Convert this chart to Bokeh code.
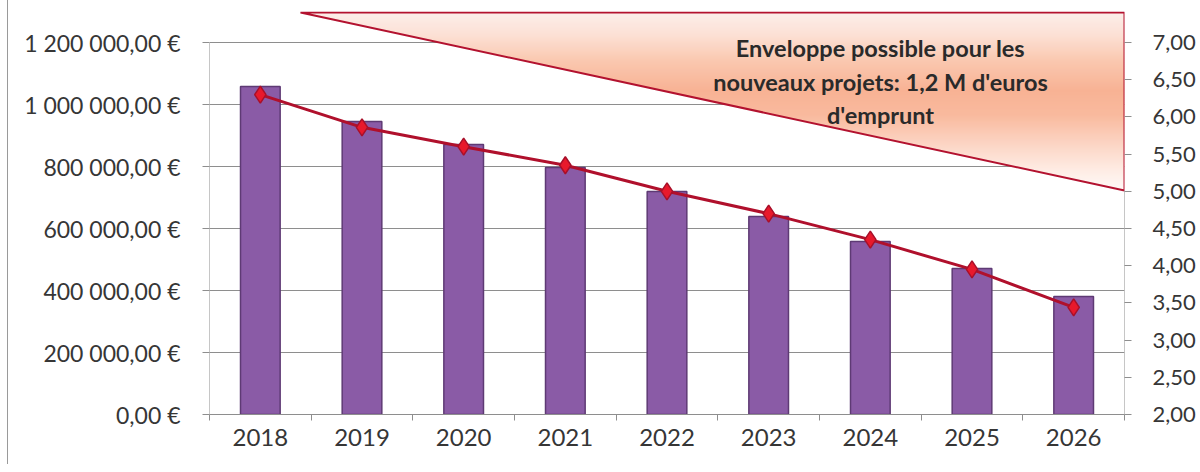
from bokeh.plotting import figure
from bokeh.models import Range1d, LinearAxis, FixedTicker, ColumnDataSource
from bokeh.core.properties import value
from bokeh.embed import file_html
from bokeh.resources import INLINE

# ---- data ----
years = ["2018", "2019", "2020", "2021", "2022", "2023", "2024", "2025", "2026"]
capital = [1058000, 945000, 871000, 797000, 719000, 639000, 558000, 471000, 381000]
ratio = [6.30, 5.86, 5.60, 5.35, 5.00, 4.70, 4.35, 3.95, 3.44]
left_ticks = [0, 200000, 400000, 600000, 800000, 1000000, 1200000]
right_ticks = [2.0, 2.5, 3.0, 3.5, 4.0, 4.5, 5.0, 5.5, 6.0, 6.5, 7.0]
note_lines = ["Enveloppe possible pour les", "nouveaux projets: 1,2 M d'euros", "d'emprunt"]

FONT = "Lato"
TXT = "#363636"
GRID = "#8e8e8e"

# layout: frame 915 x 403 px; left scale 1.2M over 372 px
frame_h = 403
px_per_unit_left = 372 / 1200000
y_top = frame_h / px_per_unit_left          # 1.3M
r_top = 2 + 5 * frame_h / 372

p = figure(frame_width=915, frame_height=frame_h, min_border_left=201, min_border_top=11,
           min_border_right=75, min_border_bottom=50,
           x_range=Range1d(-0.5, 8.5), y_range=Range1d(0, y_top),
           output_backend="svg", toolbar_location=None)
p.outline_line_color = None
p.background_fill_color = "white"
p.border_fill_color = "white"
p.extra_y_ranges = {"r": Range1d(2, r_top)}

xs = list(range(len(years)))

# ---- gradient triangle (annotation) ----
def px_to_y(py):  # page pixel row -> left-axis data value
    return (414 - py) / px_per_unit_left

tri_x0 = (300 - 209) / 101.67 - 0.5
tri_ytop = px_to_y(12)
tri_ybot = px_to_y(190)

def hyp_x(y):
    t = (tri_ytop - y) / (tri_ytop - tri_ybot)
    return tri_x0 + t * (8.5 - tri_x0)

stops = [(12, (252, 238, 234)), (35, (252, 224, 212)), (60, (250, 200, 176)),
         (90, (248, 178, 148)), (115, (249, 186, 158)), (145, (252, 214, 198)),
         (170, (254, 236, 228)), (190, (255, 250, 248))]

def col_at(py):
    for (a, ca), (b, cb) in zip(stops[:-1], stops[1:]):
        if a <= py <= b:
            t = (py - a) / (b - a)
            c = [round(ca[i] + t * (cb[i] - ca[i])) for i in range(3)]
            return "#%02x%02x%02x" % tuple(c)
    return "#ffffff"

bx, by, bc = [], [], []
nb = 89
for i in range(nb):
    pa = 12 + (190 - 12) * i / nb
    pb = 12 + (190 - 12) * (i + 1) / nb
    ya = px_to_y(pa)
    yb = px_to_y(min(pb + 0.8, 190))
    bx.append([hyp_x(ya), 8.5, 8.5, hyp_x(yb)])
    by.append([ya, ya, yb, yb])
    bc.append(col_at((pa + pb) / 2))
p.patches(bx, by, fill_color=bc, line_color=None)
p.patch([tri_x0, 8.5, 8.5], [tri_ytop, tri_ytop, tri_ybot], fill_color=None,
        line_color="#b3122f", line_width=2)

# ---- bars ----
src = ColumnDataSource(dict(x=xs, cap=capital, r=ratio))
p.vbar(x="x", top="cap", width=0.39, source=src, fill_color="#8a5ba6",
       line_color="#5e3a74", line_width=1.5)

# ---- line ----
p.line(x="x", y="r", source=src, y_range_name="r", line_color="#b0102c", line_width=3)
p.scatter(x="x", y="r", source=src, y_range_name="r", marker="diamond", size=17,
          fill_color="#e8192c", line_color="#a8102a", line_width=1.5)

# ---- annotation text ----
note_x = (880 - 209) / 101.67 - 0.5
note_y = [px_to_y(47), px_to_y(81), px_to_y(114)]
p.text(x=[note_x] * 3, y=note_y, text=note_lines, text_align="center",
       text_baseline="middle", text_font=value(FONT), text_font_style="bold",
       text_font_size="23.5px", text_color="#2a2a2a")

# ---- axes ----
p.xgrid.grid_line_color = None
p.ygrid.ticker = FixedTicker(ticks=left_ticks)
p.ygrid.grid_line_color = GRID
p.ygrid.grid_line_width = 1

xa = p.xaxis[0]
xa.ticker = FixedTicker(ticks=xs, minor_ticks=[i - 0.5 for i in range(len(years) + 1)])
xa.major_label_overrides = {i: y for i, y in enumerate(years)}
xa.major_tick_line_color = None
xa.minor_tick_in = 0
xa.minor_tick_out = 6
xa.minor_tick_line_color = GRID
xa.axis_line_color = GRID
xa.major_label_standoff = 8
xa.major_label_text_font_size = "24px"

ya_ = p.yaxis[0]
ya_.ticker = FixedTicker(ticks=left_ticks)
ya_.major_label_overrides = {
    v: ("{:,.2f}".format(v).replace(",", " ").replace(".", ",") + " €") for v in left_ticks}
ya_.minor_tick_line_color = None
ya_.major_tick_in = 0
ya_.major_tick_out = 7
ya_.major_tick_line_color = GRID
ya_.axis_line_color = None
ya_.major_label_standoff = 22
ya_.major_label_text_font_size = "23px"

ra = LinearAxis(y_range_name="r", ticker=FixedTicker(ticks=right_ticks))
ra.major_label_overrides = {v: ("%.2f" % v).replace(".", ",") for v in right_ticks}
ra.minor_tick_line_color = None
ra.major_tick_in = 0
ra.major_tick_out = 7
ra.major_tick_line_color = GRID
ra.axis_line_color = None
ra.major_label_standoff = 21
ra.major_label_text_font_size = "22px"
p.add_layout(ra, "right")

for ax in (xa, ya_, ra):
    ax.major_label_text_font = FONT
    ax.major_label_text_color = TXT

# axis lines limited to the scale span
p.segment(x0=[-0.5, 8.5], y0=[0, 0], x1=[-0.5, 8.5], y1=[left_ticks[-1], tri_ybot],
          line_color=GRID, line_width=1)

p.styles = {"margin-left": "7px", "border-left": "1px solid #9a9a9a"}

open("out.html", "w").write(file_html(p, INLINE))
